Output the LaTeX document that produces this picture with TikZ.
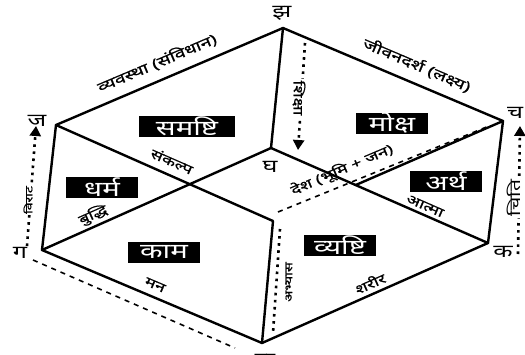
\documentclass[tikz,border=0pt]{standalone}
\usepackage{fontspec}
\usetikzlibrary{arrows.meta}
\newfontfamily\dev[Script=Devanagari,FakeStretch=1.4]{Noto Sans}
\newfontfamily\devh[Script=Devanagari,FakeStretch=1.4,FakeBold=0.8]{Noto Sans}
\begin{document}
\begin{tikzpicture}[x=1pt,y=-1pt,
  edge/.style={line width=2.4pt,line join=round,line cap=round},
  vlab/.style={font=\dev\bfseries\fontsize{18}{18}\selectfont,inner sep=0pt},
  boxlab/.style={fill=black,text=white,font=\dev\bfseries\fontsize{21}{21}\selectfont,minimum height=21pt,minimum width=72pt,inner sep=0pt},
  elab/.style={font=\devh\fontsize{13}{13}\selectfont,inner sep=1pt},
  biglab/.style={font=\devh\fontsize{14}{14}\selectfont,inner sep=1pt},
  dotline/.style={line width=2.6pt,dash pattern=on 2.6pt off 4.5pt},
  dashline/.style={line width=1.6pt,dash pattern=on 5pt off 5pt},
  tipA/.style={-{Triangle[length=10pt,width=11pt]}},
  onlab/.style={font=\devh\fontsize{13}{13}\selectfont,fill=white,inner sep=1.5pt}]
\useasboundingbox (0,0) rectangle (525,354);
\fill[white] (0,0) rectangle (525,354);
% vertices
\coordinate (jha) at (283,28);
\coordinate (cha) at (503,121);
\coordinate (ka) at (488,243);
\coordinate (kha) at (262,343);
\coordinate (ga) at (42,250);
\coordinate (ja) at (56,125);
\coordinate (gha) at (271,148);
\coordinate (B) at (273,221);
\coordinate (R) at (intersection of gha--ka and B--cha);
% solid edges
\draw[edge] (ja)--(jha)--(cha)--(ka)--(kha)--(ga)--cycle;
\draw[edge] (jha)--(gha);
\draw[edge] (ga)--(gha)--(ka);
\draw[edge] (ja)--(B)--(kha);
\draw[edge] (R)--(cha);
% annotation lines
\coordinate (s1) at (305,43); \coordinate (s2) at (298,150);
\coordinate (l1) at (27,246); \coordinate (l2) at (36,126);
\coordinate (r1) at (518,254); \coordinate (r2) at (520,126);
\coordinate (a1) at (280,229); \coordinate (a2) at (273,333);
\coordinate (m1) at (33,260); \coordinate (m2) at (235,348);
\coordinate (d1) at (278,212); \coordinate (d2) at (489,126);
\draw[dotline,tipA] (s1)--(s2);
\draw[dotline,tipA] (l1)--(l2);
\draw[dotline,tipA] (r1)--(r2);
\draw[dotline] (a1)--(a2);
\draw[dashline] (m1)--(m2);
\draw[dashline] (d1)--(d2);
% labels on annotation lines
\node[onlab,rotate=-90] (shiksha) at (299,98) {शिक्षा};
\node[onlab,rotate=90,font=\devh\fontsize{10}{10}\selectfont] (virat) at (28,200) {विराट};
\node[onlab,rotate=90,font=\dev\bfseries\fontsize{15}{15}\selectfont] (chiti) at (514,198) {चिति};
\node[elab,rotate=90,font=\devh\fontsize{10.5}{10.5}\selectfont] (abhyas) at (289,282) {अभ्यास};
% edge labels
\node[biglab,rotate=23] (vyav) at (157,63) {व्यवस्था (संविधान)};
\node[biglab,rotate=-23] (jivan) at (417,65) {जीवनदर्श (लक्ष्य)};
\node[elab,rotate=-23.6] (sank) at (172,161) {संकल्प};
\node[elab,rotate=24] (buddhi) at (93,215) {बुद्धि};
\node[elab,rotate=-23] (man) at (155,285) {मन};
\node[elab,rotate=24] (sharir) at (370,283) {शरीर};
\node[elab,rotate=-23.6] (atma) at (425,206) {आत्मा};
\node[elab,rotate=23] (desh) at (342,170) {देश (भूमि + जन)};
% boxes
\node[boxlab,minimum width=96pt] (samashti) at (187,126) {समष्टि};
\node[boxlab] (moksha) at (392,123) {मोक्ष};
\node[boxlab] (dharma) at (102,187) {धर्म};
\node[boxlab] (artha) at (446,181) {अर्थ};
\node[boxlab] (kama) at (164,252) {काम};
\node[boxlab] (vyashti) at (340,245) {व्यष्टि};
% vertex letters
\node[vlab] (Ljha) at (282,13) {झ};
\node[vlab] (Lja) at (37,121) {ज};
\node[vlab] (Lga) at (20,253) {ग};
\node[vlab] (Lkha) at (265,360) {ख};
\node[vlab] (Lka) at (503,252) {क};
\node[vlab] (Lcha) at (515,113) {च};
\node[vlab] (Lgha) at (270,167) {घ};
\end{tikzpicture}
\end{document}
